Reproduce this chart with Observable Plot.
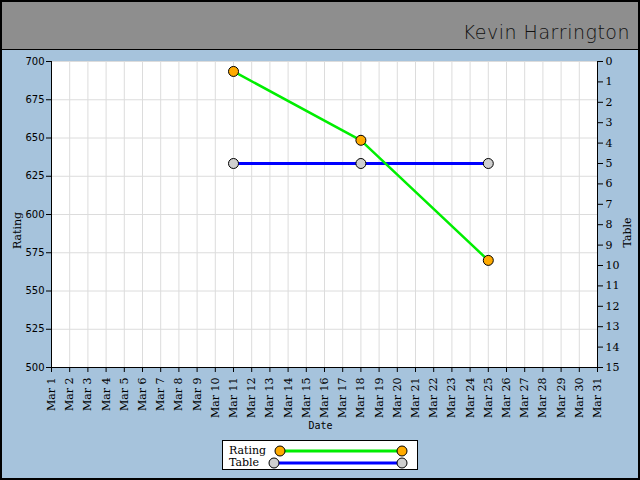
<!DOCTYPE html>
<html><head><meta charset="utf-8">
<script src="https://cdn.jsdelivr.net/npm/d3@7"></script>
<script src="https://cdn.jsdelivr.net/npm/@observablehq/plot@0.6"></script>
<style>
body{margin:0;}
#wrap{position:relative;width:640px;height:480px;background:#a6c3dc;overflow:hidden;}
#head{position:absolute;left:0;top:0;width:640px;height:50px;background:#8e8e8e;box-sizing:border-box;border-bottom:1px solid #000;}
#title{position:absolute;right:10px;top:21px;font-family:"DejaVu Sans",sans-serif;font-size:19px;font-weight:300;color:#111;letter-spacing:0.5px;}
#chart{position:absolute;left:0;top:0;width:640px;height:480px;}
#chart svg{max-width:none;}
#border{position:absolute;left:0;top:0;width:640px;height:480px;box-sizing:border-box;border:2px solid #000;pointer-events:none;}
#legend{position:absolute;left:222px;top:440px;width:196px;height:30px;background:#fff;border:1px solid #000;box-sizing:border-box;font-family:"DejaVu Serif",serif;font-size:11px;}
#legend .row{position:absolute;left:6px;height:12px;line-height:12px;}
#legend svg{position:absolute;left:0;top:0;}
</style>
</head><body>
<div id="wrap">
<div id="head"><div id="title">Kevin Harrington</div></div>
<div id="chart"></div>
<div id="legend"></div>
<div id="border"></div>
</div>
<script>
// Data
const ratingDates = ["2014-03-11", "2014-03-18", "2014-03-25"];
const ratingValues = [693.5, 648.5, 570];
const tableDates = ["2014-03-11", "2014-03-18", "2014-03-25"];
const tableValues = [5, 5, 5];
const ratingTicks = [500, 525, 550, 575, 600, 625, 650, 675, 700];
const tableTicks = [0,1,2,3,4,5,6,7,8,9,10,11,12,13,14,15];

const parse = d3.utcParse("%Y-%m-%d");
const xStart = parse("2014-03-01"), xEnd = parse("2014-03-31");
const days = d3.utcDay.range(xStart, d3.utcDay.offset(xEnd, 1));

// table axis (0 top .. 15 bottom) mapped onto rating coordinates
const tMin = 0, tMax = 15, rMin = 500, rMax = 700;
const t2r = t => rMax - (t - tMin) * (rMax - rMin) / (tMax - tMin);
const r2t = r => (rMax - r) * (tMax - tMin) / (rMax - rMin) + tMin;

const rating = ratingDates.map((d, i) => ({date: parse(d), value: ratingValues[i]}));
const table = tableDates.map((d, i) => ({date: parse(d), value: t2r(tableValues[i])}));

const serif = "DejaVu Serif, serif";
const sans = "DejaVu Sans, sans-serif";
const mono = "DejaVu Sans Mono, monospace";

const plot = Plot.plot({
  width: 640, height: 480,
  marginTop: 61, marginLeft: 51, marginRight: 43, marginBottom: 113,
  style: {background: "transparent", color: "#000", fontSize: "10px", maxWidth: "none"},
  x: {type: "utc", domain: [xStart, xEnd]},
  y: {domain: [rMin, rMax]},
  marks: [
    Plot.frame({fill: "#fff", stroke: null}),
    Plot.gridX(days, {stroke: "#dcdcdc", strokeOpacity: 1}),
    Plot.gridY(ratingTicks, {stroke: "#dcdcdc", strokeOpacity: 1}),
    Plot.ruleX([xStart], {y1: rMin, y2: rMax, stroke: "#000"}),
    Plot.ruleX([xEnd], {y1: rMin, y2: rMax, stroke: "#000"}),
    Plot.ruleY([rMin], {stroke: "#000"}),
    Plot.axisY(ratingTicks, {anchor: "left", tickSize: 5, tickPadding: 2, label: null, fontFamily: sans, fontSize: 10}),
    Plot.axisY(tableTicks.map(t2r), {anchor: "right", tickSize: 5, tickPadding: 3, label: null, tickFormat: r => String(Math.round(r2t(r))), fontFamily: serif, fontSize: 11}),
    Plot.axisX(days, {anchor: "bottom", tickSize: 5, tickPadding: 5, tickRotate: -90, label: null, tickFormat: d3.utcFormat("%b %-d"), fontFamily: serif, fontSize: 11}),
    Plot.text(["Rating"], {frameAnchor: "left", textAnchor: "middle", lineAnchor: "middle", dx: -34, dy: 16, rotate: -90, fontFamily: serif, fontSize: 11}),
    Plot.text(["Table"], {frameAnchor: "right", textAnchor: "middle", lineAnchor: "middle", dx: 30, dy: 18, rotate: -90, fontFamily: serif, fontSize: 11}),
    Plot.text(["Date"], {frameAnchor: "bottom", textAnchor: "middle", lineAnchor: "middle", dx: -4, dy: 58, fontFamily: mono, fontSize: 10}),
    Plot.line(table, {x: "date", y: "value", stroke: "#0000ff", strokeWidth: 3}),
    Plot.line(rating, {x: "date", y: "value", stroke: "#00ee00", strokeWidth: 2.5}),
    Plot.dot(table, {x: "date", y: "value", r: 5, fill: "#cfcfcf", stroke: "#000", strokeWidth: 1}),
    Plot.dot(rating, {x: "date", y: "value", r: 5, fill: "#ffaa00", stroke: "#000", strokeWidth: 1})
  ]
});
document.getElementById("chart").appendChild(plot);

// Legend
const legend = d3.select("#legend");
legend.append("div").attr("class", "row").style("top", "4px").text("Rating");
legend.append("div").attr("class", "row").style("top", "16px").text("Table");
const ls = legend.append("svg").attr("width", 194).attr("height", 28);
ls.append("line").attr("x1", 57).attr("x2", 179).attr("y1", 10).attr("y2", 10).attr("stroke", "#00ee00").attr("stroke-width", 3);
ls.append("circle").attr("cx", 57).attr("cy", 10).attr("r", 5).attr("fill", "#ffaa00").attr("stroke", "#000");
ls.append("circle").attr("cx", 179).attr("cy", 10).attr("r", 5).attr("fill", "#ffaa00").attr("stroke", "#000");
ls.append("line").attr("x1", 51).attr("x2", 179).attr("y1", 22).attr("y2", 22).attr("stroke", "#0000ff").attr("stroke-width", 3);
ls.append("circle").attr("cx", 51).attr("cy", 22).attr("r", 5).attr("fill", "#cfcfcf").attr("stroke", "#000");
ls.append("circle").attr("cx", 179).attr("cy", 22).attr("r", 5).attr("fill", "#cfcfcf").attr("stroke", "#000");
</script>
</body></html>
